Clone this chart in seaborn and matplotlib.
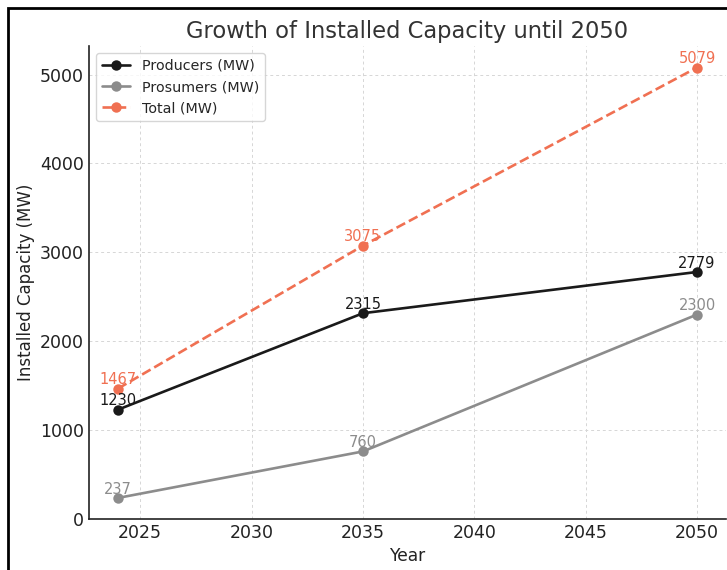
import numpy as np
import seaborn as sns
import matplotlib.pyplot as plt
import pandas as pd
from matplotlib.patches import Rectangle

years = [2024, 2035, 2050]
producers = [1230, 2315, 2779]
prosumers = [237, 760, 2300]
total = [1467, 3075, 5079]

sns.set_style('whitegrid')
plt.rcParams['font.family'] = ['DejaVu Sans']

df = pd.DataFrame({'Year': years, 'Producers': producers,
                   'Prosumers': prosumers, 'Total': total})

fig = plt.figure(figsize=(7.27, 5.70), dpi=100)
ax = fig.add_axes([89 / 727, 51 / 570, (726 - 89) / 727, (519 - 46) / 570])

c_prod = '#1a1a1a'
c_pros = '#8c8c8c'
c_tot = '#f07052'

sns.lineplot(data=df, x='Year', y='Producers', ax=ax, color=c_prod, marker='o',
             markersize=7.5, markeredgewidth=0, linewidth=1.9, label='Producers (MW)')
sns.lineplot(data=df, x='Year', y='Prosumers', ax=ax, color=c_pros, marker='o',
             markersize=7.5, markeredgewidth=0, linewidth=1.9, label='Prosumers (MW)')
sns.lineplot(data=df, x='Year', y='Total', ax=ax, color=c_tot, marker='o',
             markersize=7.5, markeredgewidth=0, linewidth=1.9, linestyle='--',
             label='Total (MW)')

for col, c in [('Producers', c_prod), ('Prosumers', c_pros), ('Total', c_tot)]:
    for x, y in zip(df['Year'], df[col]):
        ax.annotate(str(y), (x, y), textcoords='offset points', xytext=(0, 3),
                    ha='center', color=c, fontsize=10.5)

ax.set_ylim(bottom=0)
ax.set_xticks([2025, 2030, 2035, 2040, 2045, 2050])
ax.grid(True, linestyle=(0, (3, 3)), color='#d6d6d6', linewidth=0.7)
ax.tick_params(direction='in', length=5, width=1, colors='#222222', labelsize=12.5)
for s in ['left', 'bottom']:
    ax.spines[s].set_color('#222222')
    ax.spines[s].set_linewidth(1.2)
for s in ['top', 'right']:
    ax.spines[s].set_visible(False)

ax.set_title('Growth of Installed Capacity until 2050', fontsize=16.3, color='#333333', pad=6)
ax.set_xlabel('Year', fontsize=12.3, color='#222222', labelpad=4)
ax.set_ylabel('Installed Capacity (MW)', fontsize=12, color='#222222', labelpad=4)

ax.legend(loc='upper left', fontsize=10.3, frameon=True)

fig.patches.append(Rectangle((8 / 727, -0.1), 1.2, 1 - 8 / 570 + 0.1,
                             transform=fig.transFigure, fill=False,
                             edgecolor='black', linewidth=2))

plt.savefig('out.png', dpi=100)
